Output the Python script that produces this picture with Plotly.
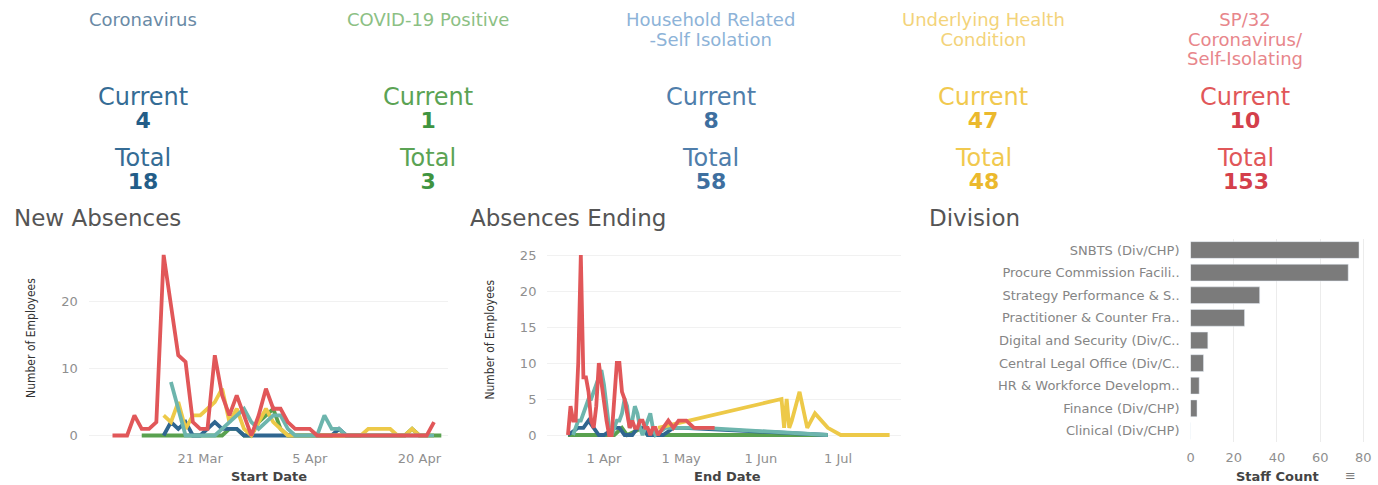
import pandas as pd
import plotly.graph_objects as go

W, H = 1378, 485

# ---------------- KPI cards ----------------
kpi_titles = [
    ["Coronavirus"],
    ["COVID-19 Positive"],
    ["Household Related", "-Self Isolation"],
    ["Underlying Health", "Condition"],
    ["SP/32", "Coronavirus/", "Self-Isolating"],
]
kpi_current = [4, 1, 8, 47, 10]
kpi_total = [18, 3, 58, 48, 153]
kpi_title_colors = ["#6a8aa6", "#8cc084", "#8db3d8", "#f3d37a", "#e8868b"]
kpi_label_colors = ["#356c95", "#5ba354", "#4f7eab", "#f1c94f", "#e15759"]
kpi_number_colors = ["#235d88", "#3f9440", "#3e6f9f", "#ebb92d", "#d43f4b"]

# ---------------- New Absences (by start date) ----------------
new_red_start = "2020-03-09"
new_red = [0, 0, 0, 3, 1, 1, 2, 27, 19, 12, 11, 2, 1, 1, 12, 6, 3, 6, 3, 0, 3, 7, 4,
           4, 2, 1, 1, 1, 0, 0, 0, 0, 0, 0, 0, 0, 0, 0, 0, 0, 0, 0, 0, 0, 2]
new_teal_start = "2020-03-17"
new_teal = [8, 4, 0, 0, 0, 0, 0, 1, 2, 3, 4, 2, 1, 2, 3,
            3, 1, 0, 0, 0, 0, 3, 1, 1, 0, 0, 0, 0, 0, 0, 0, 0, 0, 0, 0, 0, 0]
new_green_start = "2020-03-13"
new_green = [0, 0, 0, 0, 0, 0, 0, 0, 0, 0, 0, 0, 1, 1, 0, 0, 2, 3, 4,
             1, 0, 0, 0, 0, 0, 0, 0, 0, 0, 0, 0, 0, 0, 0, 0, 0, 0, 1, 0, 0, 0, 0]
new_yellow_start = "2020-03-16"
new_yellow = [3, 2, 5, 1, 3, 3, 4, 5, 7, 2, 4, 1, 0, 2, 4, 2,
              1, 0, 0, 0, 0, 0, 0, 0, 0, 0, 0, 0, 1, 1, 1, 1, 0, 0, 1, 0, 0, 0]
new_blue_start = "2020-03-16"
new_blue = [0, 2, 1, 2, 0, 0, 1, 2, 1, 1, 1, 0, 0, 0, 0, 0,
            0, 0, 0, 0, 0, 0, 0, 0, 1, 0, 0, 0]

# ---------------- Absences Ending (by end date) ----------------
end_red_dates = ["2020-03-18", "2020-03-19", "2020-03-20", "2020-03-21", "2020-03-22", "2020-03-23",
                 "2020-03-24", "2020-03-25", "2020-03-26", "2020-03-27", "2020-03-28", "2020-03-29",
                 "2020-03-30", "2020-03-31", "2020-04-01", "2020-04-02", "2020-04-03", "2020-04-04",
                 "2020-04-05", "2020-04-06", "2020-04-07", "2020-04-08", "2020-04-09", "2020-04-10",
                 "2020-04-11", "2020-04-12", "2020-04-13", "2020-04-14", "2020-04-15", "2020-04-16",
                 "2020-04-17", "2020-04-18", "2020-04-19", "2020-04-20", "2020-04-21", "2020-04-22",
                 "2020-04-24", "2020-04-26", "2020-04-28", "2020-04-30", "2020-05-03", "2020-05-06",
                 "2020-05-14"]
end_red = [0, 4, 2, 2, 10, 25, 8, 8, 6, 2, 1, 4, 10, 7, 5, 2, 0, 0, 5, 10, 10, 6, 5, 3,
           1, 2, 1, 1, 2, 2, 1, 1, 0, 1, 1, 0, 1, 2, 1, 2, 2, 1, 1]
end_teal_dates = ["2020-03-20", "2020-03-21", "2020-03-22", "2020-03-23", "2020-03-24", "2020-03-25",
                  "2020-03-26", "2020-03-27", "2020-03-28", "2020-03-29", "2020-03-30", "2020-03-31",
                  "2020-04-01", "2020-04-02", "2020-04-03", "2020-04-04", "2020-04-05", "2020-04-06",
                  "2020-04-07", "2020-04-08", "2020-04-09", "2020-04-10", "2020-04-11", "2020-04-12",
                  "2020-04-13", "2020-04-14", "2020-04-15", "2020-04-16", "2020-04-17", "2020-04-18",
                  "2020-04-19", "2020-04-20", "2020-04-21", "2020-04-25", "2020-05-01", "2020-05-10",
                  "2020-06-27"]
end_teal = [0, 1, 2, 2, 3, 4, 5, 5, 6, 7, 8, 9, 7, 4, 1, 0, 1, 2, 2, 3, 5, 4, 1, 2,
            4, 3, 1, 0, 1, 2, 3, 1, 0, 1, 1, 1, 0]
end_yellow_dates = ["2020-04-22", "2020-06-09", "2020-06-10", "2020-06-11", "2020-06-12", "2020-06-13",
                    "2020-06-16", "2020-06-19", "2020-06-22", "2020-06-27", "2020-07-02", "2020-07-21"]
end_yellow = [1, 5, 1, 5, 1, 2, 6, 1, 3, 1, 0, 0]
end_blue_dates = ["2020-03-18", "2020-03-22", "2020-03-24", "2020-03-26", "2020-03-28", "2020-03-30",
                  "2020-04-01", "2020-04-05", "2020-04-07", "2020-04-09", "2020-04-12", "2020-04-14",
                  "2020-04-16", "2020-04-18", "2020-04-24", "2020-04-28", "2020-05-02", "2020-06-27"]
end_blue = [0, 1, 1, 2, 1, 0, 0, 1, 1, 0, 0, 1, 1, 0, 0, 1, 1, 0]
end_green_dates = ["2020-03-18", "2020-04-05", "2020-04-08", "2020-04-10", "2020-04-16", "2020-04-18",
                   "2020-06-27"]
end_green = [0, 0, 1, 0, 1, 0, 0]

# ---------------- Division ----------------
divisions = ["SNBTS (Div/CHP)", "Procure Commission Facili..", "Strategy Performance & S..",
             "Practitioner & Counter Fra..", "Digital and Security (Div/C..",
             "Central Legal Office (Div/C..", "HR & Workforce Developm..", "Finance (Div/CHP)",
             "Clinical (Div/CHP)"]
staff_count = [78, 73, 32, 25, 8, 6, 4, 3, 0]

RED, TEAL, GREEN, YELLOW, BLUE = "#e15759", "#6db5ad", "#59a14f", "#edc948", "#2f6690"
TICK_FONT = dict(family="DejaVu Sans", size=13, color="#8f8f8f")


def px(x):
    return x / W


def py(y):
    return 1 - y / H


def daily(start, values):
    return pd.date_range(start, periods=len(values), freq="D")


fig = go.Figure()

# New Absences lines (drawn back to front)
for start, vals, col in [(new_green_start, new_green, GREEN), (new_blue_start, new_blue, BLUE),
                         (new_yellow_start, new_yellow, YELLOW), (new_teal_start, new_teal, TEAL),
                         (new_red_start, new_red, RED)]:
    fig.add_trace(go.Scatter(x=daily(start, vals), y=vals, mode="lines",
                             line=dict(color=col, width=3.8), xaxis="x", yaxis="y",
                             showlegend=False, hoverinfo="skip"))

# Absences Ending lines
for dates, vals, col in [(end_green_dates, end_green, GREEN), (end_blue_dates, end_blue, BLUE),
                         (end_teal_dates, end_teal, TEAL), (end_yellow_dates, end_yellow, YELLOW),
                         (end_red_dates, end_red, RED)]:
    fig.add_trace(go.Scatter(x=pd.to_datetime(dates), y=vals, mode="lines",
                             line=dict(color=col, width=3.8), xaxis="x2", yaxis="y2",
                             showlegend=False, hoverinfo="skip"))

# Division bars
fig.add_trace(go.Bar(x=staff_count, y=divisions, orientation="h", marker_color="#7b7b7b",
                     xaxis="x3", yaxis="y3", showlegend=False, hoverinfo="skip"))

line_y_domain = [py(443), py(245)]
fig.update_layout(
    width=W, height=H, margin=dict(l=0, r=0, t=0, b=0),
    paper_bgcolor="white", plot_bgcolor="white",
    bargap=0.26,
    xaxis=dict(domain=[px(85), px(445)], type="date",
               range=["2020-03-05 18:00", "2020-04-23 21:00"],
               tickvals=["2020-03-21", "2020-04-05", "2020-04-20"], tickformat="%-d %b",
               showgrid=False, zeroline=False, showline=False, ticks="",
               tickfont=TICK_FONT, ticklabelstandoff=6),
    yaxis=dict(domain=line_y_domain, anchor="x", range=[-1.12, 28.48], tickvals=[0, 10, 20],
               showgrid=True, gridcolor="#f1f1f1", zeroline=False, showline=False, ticks="",
               tickfont=TICK_FONT, ticklabelstandoff=10),
    xaxis2=dict(domain=[px(545), px(900)], anchor="y2", type="date",
                range=["2020-03-10 00:30", "2020-07-25 14:00"],
                tickvals=["2020-04-01", "2020-05-01", "2020-06-01", "2020-07-01"], tickformat="%-d %b",
                showgrid=False, zeroline=False, showline=False, ticks="",
                tickfont=TICK_FONT, ticklabelstandoff=6),
    yaxis2=dict(domain=line_y_domain, anchor="x2", range=[-1.11, 26.39],
                tickvals=[0, 5, 10, 15, 20, 25],
                showgrid=True, gridcolor="#f1f1f1", zeroline=False, showline=False, ticks="",
                tickfont=TICK_FONT, ticklabelstandoff=10),
    xaxis3=dict(domain=[px(1190), px(1375)], anchor="y3", range=[0, 85.4],
                tickvals=[0, 20, 40, 60, 80], showgrid=True, gridcolor="#ececec",
                zeroline=False, showline=False, ticks="", tickfont=TICK_FONT, ticklabelstandoff=6),
    yaxis3=dict(domain=[py(442.2), py(238.7)], anchor="x3", type="category",
                categoryorder="array", categoryarray=divisions, range=[8.5, -0.5],
                showgrid=False, zeroline=False, showline=False, ticks="",
                tickfont=dict(family="DejaVu Sans", size=13, color="#858585"),
                ticklabelstandoff=10),
)

ann = []


def text(x, y, s, size, color, bold=False, xanchor="center", family="DejaVu Sans", angle=0,
         yanchor="middle"):
    ann.append(dict(x=px(x), y=py(y), xref="paper", yref="paper", text=f"<b>{s}</b>" if bold else s,
                    showarrow=False, xanchor=xanchor, yanchor=yanchor, textangle=angle,
                    font=dict(family=family, size=size, color=color)))


def span(s, size, color, bold=False):
    inner = f"<b>{s}</b>" if bold else str(s)
    return f"<span style='font-size:{size}px;color:{color}'>{inner}</span>"


# KPI cards: each block is one multi-line text so the lines stack without colliding
kpi_x = [139, 425, 709, 982, 1245]
for i, cx in enumerate(kpi_x):
    title = "<br>".join(span(line, 18, kpi_title_colors[i]) for line in kpi_titles[i])
    text(cx, 7.5, title, 15, kpi_title_colors[i], yanchor="top")
    for y0, label, value in [(96, "Current", kpi_current[i]), (157, "Total", kpi_total[i])]:
        block = span(label, 24, kpi_label_colors[i]) + "<br>" + \
            span(value, 22, kpi_number_colors[i], bold=True)
        text(cx, (y0 + y0 + 23.4) / 2, block, 18, kpi_label_colors[i])

# Panel titles
text(8, 218, "New Absences", 23, "#555555", xanchor="left")
text(465, 218, "Absences Ending", 23, "#555555", xanchor="left")
text(926, 218, "Division", 23, "#555555", xanchor="left")

# Axis titles
AX_NARROW = "Liberation Sans Narrow, DejaVu Sans Condensed, sans-serif"
text(27, 338, "Number of Employees", 12, "#333333", family=AX_NARROW, angle=-90)
text(487, 340, "Number of Employees", 12, "#333333", family=AX_NARROW, angle=-90)
text(266, 476, "Start Date", 13, "#444444", bold=True)
text(726, 476, "End Date", 13, "#444444", bold=True)
text(1277, 476, "Staff Count", 13, "#444444", bold=True)
text(1350, 475, "≡", 13, "#777777")

fig.update_layout(annotations=ann)
fig.write_html("out.html")
